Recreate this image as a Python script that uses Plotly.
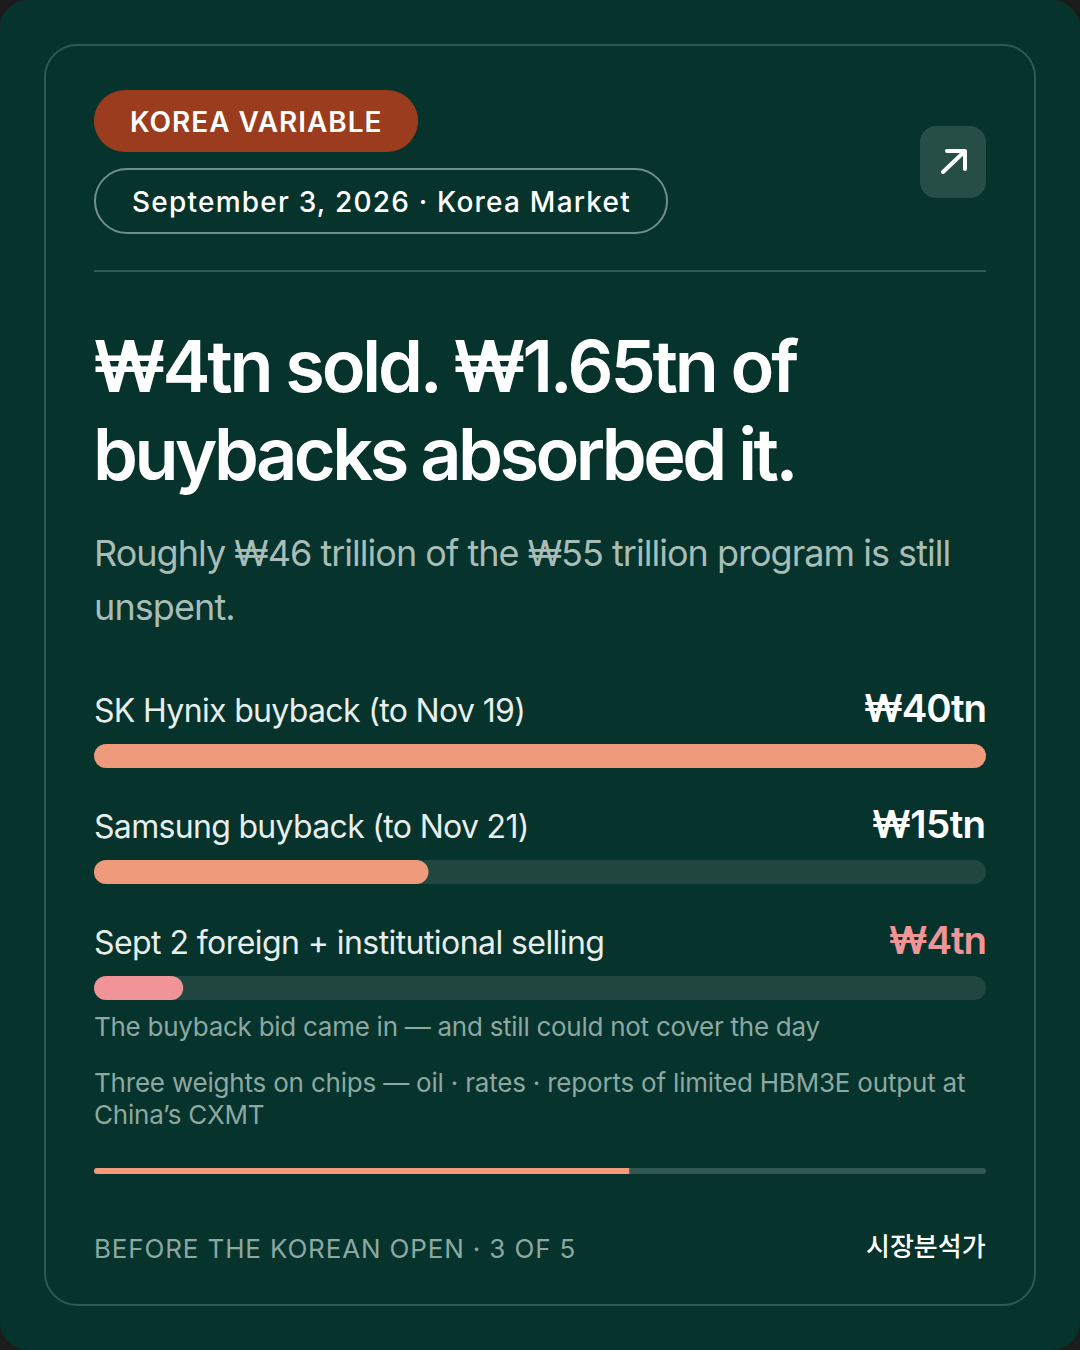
import json
import plotly.graph_objects as go

# ---- data ----
bar_labels = ["SK Hynix buyback (to Nov 19)", "Samsung buyback (to Nov 21)", "Sept 2 foreign + institutional selling"]
bar_values = [40, 15, 4]
bar_value_labels = ["₩40tn", "₩15tn", "₩4tn"]
bar_scale_max = 40
bar_colors = ["#f09a7c", "#f09a7c", "#f09498"]
value_label_colors = ["#ffffff", "#ffffff", "#f09498"]
slide_current = 3
slide_total = 5

BG = "#06332c"
LINE = "#2f5a50"
INTER = "Inter"

def rrect(x0, y0, x1, y1, r):
    k = r * 0.4477
    return (f"M{x0+r},{y0} L{x1-r},{y0} C{x1-k},{y0} {x1},{y0+k} {x1},{y0+r} "
            f"L{x1},{y1-r} C{x1},{y1-k} {x1-k},{y1} {x1-r},{y1} "
            f"L{x0+r},{y1} C{x0+k},{y1} {x0},{y1-k} {x0},{y1-r} "
            f"L{x0},{y0+r} C{x0},{y0+k} {x0+k},{y0} {x0+r},{y0} Z")

def box(x0, y0, x1, y1, r, fill="rgba(0,0,0,0)", line=None, w=0):
    return dict(type="path", path=rrect(x0, y0, x1, y1, r), xref="x", yref="y", layer="below",
                fillcolor=fill, line=dict(color=line or "rgba(0,0,0,0)", width=w))

shapes = [
    box(0, 0, 1080, 1350, 28, fill=BG),
    box(45, 45, 1035, 1305, 32, line=LINE, w=2),
    box(94, 90, 418, 152, 31, fill="#9a3c1d"),
    box(95, 169, 667, 233, 32, line="#6f9088", w=2),
    box(920, 126, 986, 198, 16, fill="#274d47"),
    dict(type="line", xref="x", yref="y", layer="below", x0=94, x1=986, y0=271, y1=271,
         line=dict(color=LINE, width=2)),
    dict(type="path", xref="x", yref="y", layer="above", name="arrow",
         path="M943,172 L964,152 M947,151 L965,151 L965,169", line=dict(color="#ffffff", width=4)),
]

# (text, x, y, anchor, size, weight, colour, letter spacing, family)
T = [
    ("KOREA VARIABLE", 130, 122, "left", 28, 600, "#ffffff", 0.95, INTER),
    ("September 3, 2026 · Korea Market", 132, 202, "left", 28, 500, "#ffffff", 1.22, INTER),
    ("₩4tn sold. ₩1.65tn of", 93, 365, "left", 72, 600, "#ffffff", -3.2, INTER),
    ("buybacks absorbed it.", 93, 453, "left", 72, 600, "#ffffff", -3.55, INTER),
    ("Roughly ₩46 trillion of the ₩55 trillion program is still", 94, 553, "left", 36, 400, "#a9bdb7", -0.98, INTER),
    ("unspent.", 94, 607, "left", 36, 400, "#a9bdb7", -0.9, INTER),
    ("The buyback bid came in — and still could not cover the day", 94, 1026, "left", 26, 400, "#8da8a1", -0.27, INTER),
    ("Three weights on chips — oil · rates · reports of limited HBM3E output at", 94, 1082, "left", 26, 400, "#8da8a1", -0.2, INTER),
    ("China’s CXMT", 94, 1114, "left", 26, 400, "#8da8a1", -0.2, INTER),
    ("BEFORE THE KOREAN OPEN · 3 OF 5", 94, 1248, "left", 26, 400, "#8da8a1", 0.85, INTER),
    ("시장분석가", 986, 1244, "right", 26, 500, "#ffffff", 0, "Noto Sans CJK KR"),
]
label_ys = [710, 826, 942]
label_spacing = [-0.66, -0.68, -0.57]
value_spacing = [-1.2, -0.6, -1.2]
for lab, val, col, yy, ls, vs in zip(bar_labels, bar_value_labels, value_label_colors, label_ys, label_spacing, value_spacing):
    T.append((lab, 94, yy, "left", 32, 400, "#e8eeec", ls, INTER))
    T.append((val, 986, yy - 2, "right", 38.5, 600, col, vs, INTER))

annotations = [dict(text=t, x=x, y=y, xref="x", yref="y", xanchor=a, yanchor="middle", showarrow=False,
                    borderpad=0, borderwidth=0, align=a,
                    font=dict(family=fam, size=s, weight=w, color=c))
               for t, x, y, a, s, w, c, ls, fam in T]
spacing = [row[7] for row in T]

fig = go.Figure()
fig.add_trace(go.Scatter(x=[], y=[], xaxis="x", yaxis="y", showlegend=False, hoverinfo="skip"))

def hbar(cats, vals, colors, axx, axy, width, radius, base):
    fig.add_trace(go.Bar(y=cats, x=vals, base=base, orientation="h", xaxis=axx, yaxis=axy, width=width,
                         marker=dict(color=colors, cornerradius=radius, line=dict(width=0)),
                         showlegend=False, hoverinfo="skip"))

zeros = [0] * len(bar_labels)
# an explicit base makes plotly round both ends of a bar
hbar(bar_labels, [bar_scale_max] * len(bar_labels), ["#20463f"] * len(bar_labels), "x2", "y2", 24 / 116, 12, zeros)
hbar(bar_labels, bar_values, bar_colors, "x2", "y2", 24 / 116, 12, zeros)

cap = slide_total * 6 / 892  # 6 px expressed in axis units, for the rounded left end of the fill
hbar(["progress"], [slide_total], ["#335a52"], "x3", "y3", 1, 3, [0])
hbar(["progress"], [cap], ["#f4997a"], "x3", "y3", 1, 3, [0])
hbar(["progress"], [slide_current - cap / 2], ["#f4997a"], "x3", "y3", 1, 0, [cap / 2])

hidden = dict(visible=False, showgrid=False, zeroline=False, fixedrange=True)
H = 1350
W = 1080
fig.update_layout(
    width=W, height=H, margin=dict(l=0, r=0, t=0, b=0, pad=0), autosize=False,
    paper_bgcolor="#1c1c1c", plot_bgcolor="rgba(0,0,0,0)", barmode="overlay", showlegend=False,
    xaxis=dict(range=[0, W], domain=[0, 1], **hidden),
    yaxis=dict(range=[H, 0], domain=[0, 1], **hidden),
    xaxis2=dict(range=[0, bar_scale_max], domain=[94 / W, 986 / W], anchor="y2", **hidden),
    yaxis2=dict(type="category", categoryorder="array", categoryarray=bar_labels, range=[2.5, -0.5],
                domain=[1 - 1046 / H, 1 - 698 / H], anchor="x2", **hidden),
    xaxis3=dict(range=[0, slide_total], domain=[94 / W, 986 / W], anchor="y3", **hidden),
    yaxis3=dict(type="category", range=[-0.5, 0.5], domain=[1 - 1174 / H, 1 - 1168 / H], anchor="x3", **hidden),
    shapes=shapes, annotations=annotations,
)

post = """
document.body.style.margin='0';
document.body.style.background='#1c1c1c';
var sp = %s;
document.querySelectorAll('.annotation').forEach(function(g){
  var i = +g.getAttribute('data-index');
  var t = g.querySelector('text');
  if (t && sp[i]) t.style.letterSpacing = sp[i] + 'px';
});
document.querySelectorAll('.shapelayer path').forEach(function(p){
  if ((p.style.stroke||'').indexOf('255, 255, 255')>=0) {
    p.style.strokeLinecap='round'; p.style.strokeLinejoin='round';
  }
});
""" % json.dumps(spacing)

fig.write_html("out.html", post_script=post, config=dict(displayModeBar=False, staticPlot=True))
